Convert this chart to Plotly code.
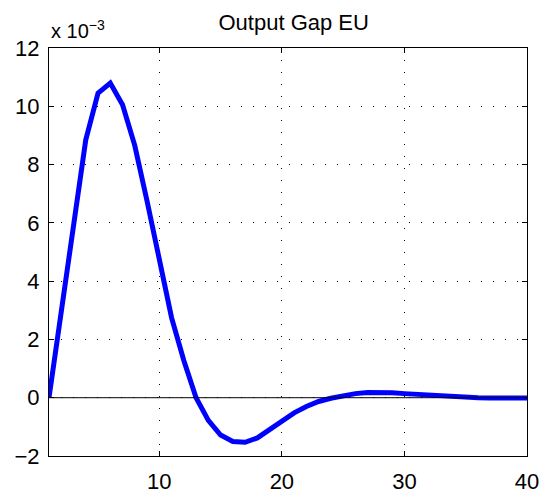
import plotly.graph_objects as go

# Impulse response of the EU output gap (values in units of 1e-3)
periods = list(range(1, 41))
output_gap_e3 = [0.0, 3.05, 6.1, 8.85, 10.45, 10.8, 10.05, 8.65, 6.75, 4.8,
                 2.75, 1.28, 0.0, -0.78, -1.28, -1.5, -1.53, -1.38, -1.1, -0.8,
                 -0.52, -0.3, -0.13, -0.02, 0.07, 0.14, 0.18, 0.19, 0.17, 0.14,
                 0.11, 0.08, 0.05, 0.03, 0.01, 0.0, -0.01, -0.01, -0.01, -0.01]
zero_line = [0.0] * len(periods)

y_ticks = [-2, 0, 2, 4, 6, 8, 10, 12]
y_tick_text = ["\u22122", "0", "2", "4", "6", "8", "10", "12"]
x_ticks = [10, 20, 30, 40]

FONT = "Liberation Sans, Arial, Helvetica, sans-serif"

fig = go.Figure()
fig.add_trace(go.Scatter(x=periods, y=output_gap_e3, mode="lines",
                         line=dict(color="#0000ff", width=5), hoverinfo="skip"))
fig.add_trace(go.Scatter(x=periods, y=zero_line, mode="lines",
                         line=dict(color="black", width=1), hoverinfo="skip"))

fig.update_layout(
    width=549, height=495,
    margin=dict(l=49, r=22, t=48, b=39),
    paper_bgcolor="white", plot_bgcolor="white",
    showlegend=False,
    font=dict(family=FONT, size=22, color="black"),
    title=dict(text="Output Gap EU", x=0.535, xanchor="center", y=0.955,
               yanchor="middle", font=dict(family=FONT, size=22, color="black")),
)
axis_common = dict(showline=True, linecolor="black", linewidth=1, mirror="ticks",
                   ticks="inside", ticklen=5, tickcolor="black",
                   showgrid=True, gridcolor="black", griddash="1px,11px", gridwidth=1,
                   zeroline=False, automargin=False)
fig.update_xaxes(range=[1, 40], tickvals=x_ticks, ticklabelstandoff=6, **axis_common)
fig.update_yaxes(range=[-2, 12], tickvals=y_ticks, ticktext=y_tick_text,
                 ticklabelstandoff=4, **axis_common)

fig.add_annotation(text="x 10<sup>\u22123</sup>", xref="paper", yref="paper",
                   x=0.0, y=1.0, xanchor="left", yanchor="bottom", yshift=4,
                   showarrow=False, font=dict(family=FONT, size=20, color="black"))

fig.write_html("out.html")
